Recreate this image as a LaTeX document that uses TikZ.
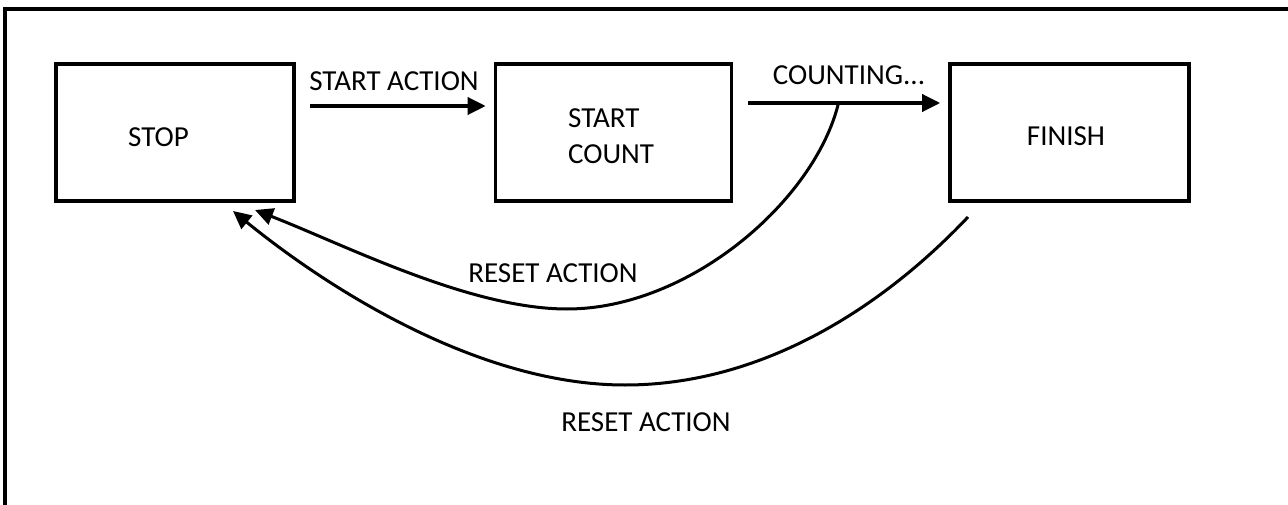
\documentclass[tikz,border=0pt]{standalone}
\usepackage{fontspec}
\setmainfont{Carlito}
\usetikzlibrary{arrows.meta,calc}
\tikzset{
  statebox/.style={draw, line width=3.6pt, rectangle, minimum height=137pt, inner sep=0pt},
  flow/.style={line width=3.6pt, -{Triangle[length=18pt,width=17pt]}},
  back/.style={line width=3pt, -{Triangle[length=18pt,width=17pt]}},
  lbl/.style={anchor=base, inner sep=0pt, font=\fontsize{29}{36}\selectfont},
}
\begin{document}
\begin{tikzpicture}[x=1pt,y=-1pt]
\useasboundingbox (0,0) rectangle (1288,505);
\draw[line width=3.6pt] (4.8,505) -- (4.8,8.8) -- (1288,8.8);

\node[statebox, minimum width=238pt] (stop) at (175,132.5) {};
\node[statebox, minimum width=236pt] (count) at (613.5,132.5) {};
\node[statebox, minimum width=239pt] (finish) at (1069.5,132.5) {};

\node[lbl] (tstop) at (158.5,147) {STOP};
\node[lbl, align=left, anchor=base west] (tcount) at (568,164) {START\\COUNT};
\node[lbl] (tfinish) at (1066,146) {FINISH};
\node[lbl] (tstart) at (394,91) {START ACTION};
\node[lbl] (tcounting) at (849,85) {COUNTING...};
\node[lbl] (treset1) at (553,283) {RESET ACTION};
\node[lbl] (treset2) at (646,431) {RESET ACTION};

\coordinate (a1s) at ([xshift=14pt,yshift=26.5pt]stop.east);
\coordinate (a1e) at ([xshift=-8pt,yshift=26.5pt]count.west);
\draw[flow] (a1s) -- (a1e);

\coordinate (a2s) at ([xshift=15pt,yshift=29.5pt]count.east);
\coordinate (a2e) at ([xshift=-8pt,yshift=29.5pt]finish.west);
\draw[flow] (a2s) -- (a2e);

\coordinate (j) at ($(a2s)!0.47!(a2e)$);
\coordinate (tip1) at (255,210);
\coordinate (low1) at (567,309);
\draw[back] (j) .. controls (815,200) and (690,309) .. (low1)
               .. controls (470,309) and (345,245) .. (tip1);

\coordinate (out2) at (968,217);
\coordinate (tip2) at (233,211);
\coordinate (low2) at (625,385);
\draw[back] (out2) .. controls (880,310) and (760,385) .. (low2)
                   .. controls (480,385) and (330,290) .. (tip2);
\end{tikzpicture}
\end{document}
